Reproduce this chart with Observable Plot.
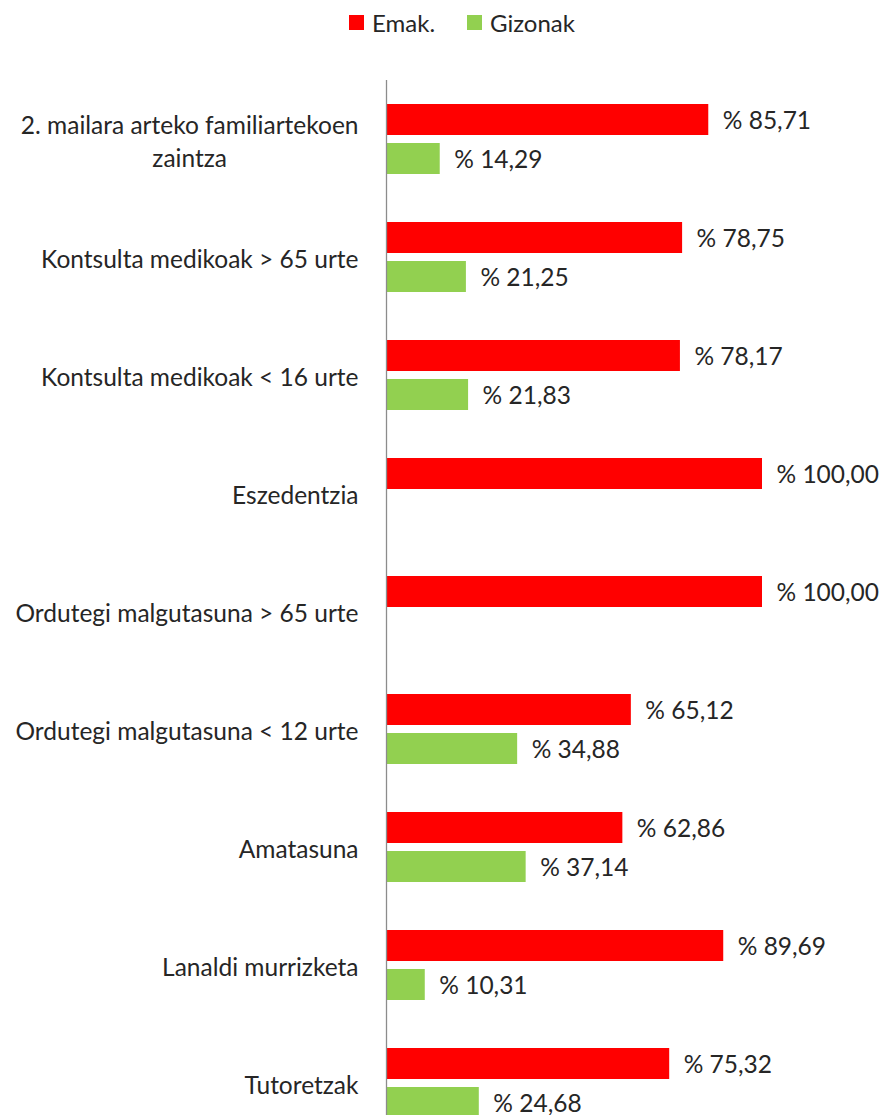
<!DOCTYPE html>
<html>
<head>
<meta charset="utf-8">
<script src="https://cdn.jsdelivr.net/npm/d3@7"></script>
<script src="https://cdn.jsdelivr.net/npm/@observablehq/plot@0.6"></script>
<style>
  html, body { margin: 0; padding: 0; background: #fff; overflow: hidden; }
  body { font-family: Lato, "Open Sans", sans-serif; color: #262626; }
  #legend { height: 50px; position: relative; font-size: 24px; }
  .item { position: absolute; top: 8px; display: flex; align-items: center; }
  .sw { width: 15px; height: 15px; margin-right: 8px; }
</style>
</head>
<body>
<div id="legend"></div>
<div id="chart"></div>
<script>
const categories = [
  "2. mailara arteko familiartekoen zaintza",
  "Kontsulta medikoak > 65 urte",
  "Kontsulta medikoak < 16 urte",
  "Eszedentzia",
  "Ordutegi malgutasuna > 65 urte",
  "Ordutegi malgutasuna < 12 urte",
  "Amatasuna",
  "Lanaldi murrizketa",
  "Tutoretzak"
];
const categoryLabels = [
  "2. mailara arteko familiartekoen\nzaintza",
  "Kontsulta medikoak > 65 urte",
  "Kontsulta medikoak < 16 urte",
  "Eszedentzia",
  "Ordutegi malgutasuna > 65 urte",
  "Ordutegi malgutasuna < 12 urte",
  "Amatasuna",
  "Lanaldi murrizketa",
  "Tutoretzak"
];
const series = ["Emak.", "Gizonak"];
const colors = ["#FF0000", "#92D050"];
const emak = [85.71, 78.75, 78.17, 100.00, 100.00, 65.12, 62.86, 89.69, 75.32];
const gizonak = [14.29, 21.25, 21.83, null, null, 34.88, 37.14, 10.31, 24.68];

const rows = categories.flatMap((c, i) => [
  {cat: c, series: series[0], value: emak[i]},
  {cat: c, series: series[1], value: gizonak[i]}
]).filter(d => d.value != null);

const fmt = v => "% " + v.toFixed(2).replace(".", ",");

// legend
const legend = document.getElementById("legend");
const legendLefts = [349, 467];
series.forEach((s, i) => {
  const it = document.createElement("div");
  it.className = "item";
  it.style.left = legendLefts[i] + "px";
  it.innerHTML = `<span class="sw" style="background:${colors[i]}"></span><span>${s}</span>`;
  legend.appendChild(it);
});

const chart = Plot.plot({
  width: 884,
  height: 1102,
  marginLeft: 386,
  marginRight: 122,
  marginTop: 30,
  marginBottom: 10,
  style: {fontFamily: "Lato, 'Open Sans', sans-serif", fontSize: "24.5px", color: "#262626", background: "white"},
  x: {domain: [0, 100], axis: null},
  y: {domain: series, axis: null, paddingInner: 0.205, paddingOuter: 0.615},
  fy: {domain: categories, padding: 0, label: null},
  color: {domain: series, range: colors},
  marks: [
    Plot.axisFy({anchor: "left", tickSize: 0, tickPadding: 28, label: null, fontSize: 24.5, lineHeight: 1.35,
      tickFormat: d => categoryLabels[categories.indexOf(d)]}),
    Plot.barX(rows, {fy: "cat", y: "series", x: "value", fill: "series"}),
    Plot.text(rows, {fy: "cat", y: "series", x: "value", text: d => fmt(d.value), textAnchor: "start", dx: 14, dy: 1, fill: "#262626", fontSize: 24.5}),
    Plot.ruleX([0], {stroke: "#8c8c8c", strokeWidth: 1.3})
  ]
});
document.getElementById("chart").appendChild(chart);

// center the lines of multi-line category labels, as in the original
chart.querySelectorAll("g[aria-label='fy-axis tick label'] text").forEach(t => {
  const spans = t.querySelectorAll("tspan");
  if (spans.length > 1) {
    const w = Math.max(...Array.from(spans, s => s.getComputedTextLength()));
    t.setAttribute("text-anchor", "middle");
    const tr = t.getAttribute("transform") || "";
    t.setAttribute("transform", tr + ` translate(${-w / 2},0)`);
  }
});
</script>
</body>
</html>
